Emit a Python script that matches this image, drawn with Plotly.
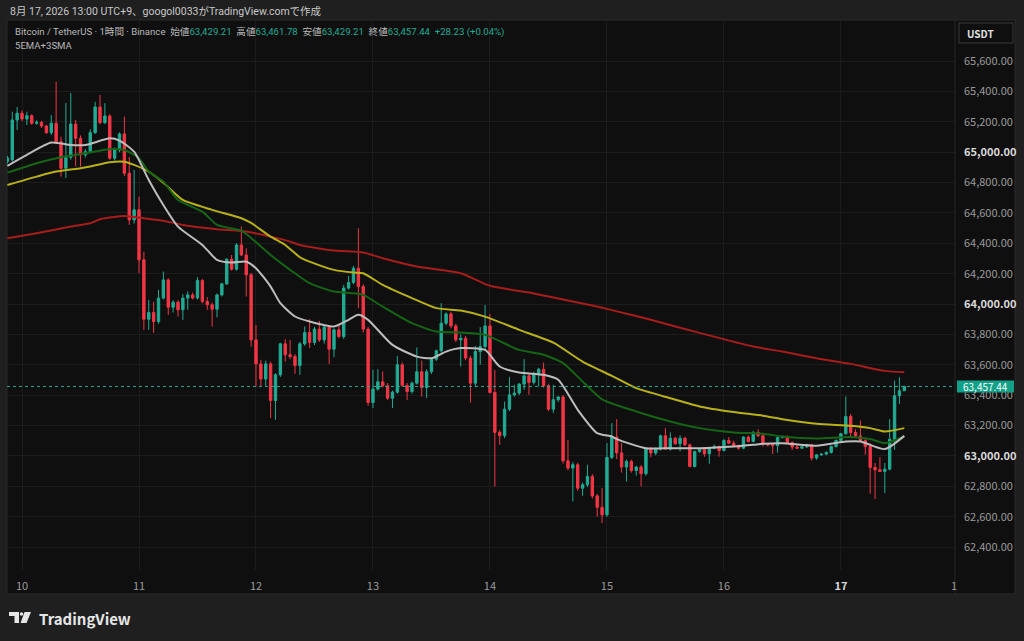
import pandas as pd
import plotly.graph_objects as go

# BTC/USDT 1h candles (Binance), first candle 2026-08-09 21:00 UTC+9
START = "2026-08-09 21:00"

opens = [
    64938, 64949, 65212,
    65256, 65218, 65240, 65190, 65196, 65172, 65128, 65190, 65069, 64894, 64966, 65185,
    65091, 64982, 65003, 65128, 65297, 65194, 65238, 64960, 65014, 65120, 64861, 64554,
    64620, 64291, 63900, 63944, 63885, 64039, 64159, 63979, 64012, 63962, 64039, 64060,
    64040, 64155, 64017, 63995, 63966, 64060, 64133, 64295, 64229, 64389, 64323, 64192,
    63764, 63606, 63506, 63606, 63365, 63534, 63738, 63666, 63655, 63595, 63738, 63812,
    63747, 63835, 63764, 63848, 63703, 63830, 63786, 64105, 64142, 64236, 64115, 63835,
    63352, 63440, 63488, 63462, 63380, 63420, 63600, 63464, 63424, 63479, 63554, 63450,
    63554, 63637, 63692, 63874, 63935, 63856, 63764, 63775, 63644, 63479, 63687, 63720,
    63856, 63418, 63155, 63134, 63308, 63402, 63414, 63473, 63527, 63484, 63540, 63571,
    63462, 63308, 63370, 63388, 62968, 62920, 62942, 62788, 62810, 62865, 62737, 62662,
    62612, 62990, 63124, 63020, 62927, 62964, 62904, 62927, 62883, 63045, 63019, 63045,
    63133, 63045, 63117, 63080, 63117, 63073, 62931, 63029, 63045, 63014, 63051, 63062,
    63036, 63102, 63084, 63067, 63051, 63124, 63095, 63155, 63133, 63080, 63073, 63068,
    63121, 63128, 63089, 63058, 63051, 63060, 63073, 62986, 63007, 63012, 63023, 63062,
    63102, 63146, 63260, 63154, 63132, 63102, 63062, 62924, 62909, 62898, 62913, 63110,
    63396, 63429.21,
]
highs = [
    64975, 65266, 65297,
    65275, 65266, 65250, 65210, 65205, 65180, 65245, 65464, 65102, 65324, 65389, 65212,
    65110, 65020, 65150, 65332, 65376, 65322, 65250, 65030, 65130, 65234, 64968, 64883,
    64707, 64345, 64027, 64016, 64093, 64214, 64170, 64025, 64025, 64065, 64082, 64075,
    64177, 64165, 64045, 64010, 64070, 64140, 64302, 64323, 64400, 64510, 64367, 64205,
    63863, 63633, 63628, 63620, 63545, 63745, 63769, 63764, 63670, 63751, 63852, 63900,
    63850, 63889, 63860, 63860, 63840, 63863, 64126, 64185, 64251, 64499, 64130, 63850,
    63567, 63571, 63556, 63480, 63430, 63659, 63615, 63480, 63490, 63714, 63628, 63570,
    63645, 63700, 64006, 63945, 63948, 63870, 63800, 63790, 63660, 63725, 63848, 63994,
    63935, 63567, 63170, 63358, 63519, 63468, 63480, 63637, 63545, 63555, 63580, 63615,
    63475, 63468, 63395, 63400, 63106, 62960, 62955, 62825, 62942, 62880, 62750, 62788,
    63085, 63216, 63242, 63085, 62975, 62975, 62935, 62940, 63055, 63060, 63055, 63140,
    63183, 63155, 63125, 63135, 63125, 63080, 63035, 63052, 63055, 63060, 63075, 63068,
    63110, 63124, 63100, 63075, 63130, 63135, 63165, 63176, 63140, 63085, 63080, 63125,
    63135, 63135, 63095, 63070, 63065, 63080, 63080, 63012, 63018, 63030, 63068, 63108,
    63152, 63391, 63277, 63176, 63233, 63115, 63085, 62953, 62992, 62953, 63242, 63496,
    63518, 63461.78,
]
lows = [
    64925, 64937, 65146,
    65205, 65179, 65180, 65180, 65160, 65120, 65113, 65060, 64839, 64830, 64950, 64905,
    64905, 64965, 64995, 65120, 65185, 65185, 64950, 64945, 65000, 64843, 64521, 64530,
    64203, 63830, 63830, 63810, 63870, 64030, 63929, 63944, 63918, 63896, 63962, 64030,
    64030, 64005, 63962, 63852, 63913, 64050, 64125, 64220, 64220, 64315, 64049, 63720,
    63457, 63457, 63460, 63249, 63238, 63520, 63621, 63637, 63540, 63534, 63725, 63710,
    63730, 63750, 63740, 63606, 63650, 63775, 63770, 64095, 64130, 63973, 63812, 63330,
    63315, 63430, 63450, 63369, 63316, 63410, 63455, 63369, 63410, 63470, 63391, 63381,
    63540, 63625, 63680, 63860, 63840, 63750, 63589, 63630, 63352, 63453, 63600, 63700,
    63410, 62799, 63073, 63117, 63295, 63390, 63400, 63435, 63402, 63470, 63457, 63450,
    63295, 63282, 63355, 62950, 62905, 62700, 62770, 62738, 62795, 62720, 62601, 62558,
    62600, 62980, 62980, 62891, 62832, 62890, 62870, 62799, 62870, 62990, 63005, 63035,
    63040, 63035, 63075, 63030, 63065, 62925, 62925, 63020, 62995, 62948, 63045, 62995,
    63030, 63080, 63060, 63040, 63045, 63090, 63090, 63125, 63062, 63062, 63012, 63022,
    63115, 63085, 63040, 63045, 63045, 63052, 62970, 62975, 63000, 63005, 63015, 63055,
    63095, 63140, 63124, 63125, 63095, 63008, 62751, 62716, 62895, 62755, 62905, 63040,
    63343, 63429.21,
]
closes = [
    64962, 65212, 65256,
    65218, 65240, 65190, 65196, 65172, 65128, 65190, 65069, 64894, 64966, 65185, 65091,
    64982, 65003, 65128, 65297, 65194, 65238, 64960, 65014, 65120, 64861, 64554, 64620,
    64291, 63900, 63944, 63885, 64039, 64159, 63979, 64012, 63962, 64039, 64060, 64040,
    64155, 64017, 63995, 63966, 64060, 64133, 64295, 64229, 64389, 64323, 64192, 63764,
    63606, 63506, 63606, 63365, 63534, 63738, 63666, 63655, 63595, 63738, 63812, 63747,
    63835, 63764, 63848, 63703, 63830, 63786, 64105, 64142, 64236, 64115, 63835, 63352,
    63440, 63488, 63462, 63380, 63420, 63600, 63464, 63424, 63479, 63554, 63450, 63554,
    63637, 63692, 63874, 63935, 63856, 63764, 63775, 63644, 63479, 63687, 63720, 63856,
    63418, 63155, 63134, 63308, 63402, 63414, 63473, 63527, 63484, 63540, 63571, 63462,
    63308, 63370, 63388, 62968, 62920, 62942, 62788, 62810, 62865, 62737, 62662, 62612,
    62990, 63124, 63020, 62927, 62964, 62904, 62927, 62883, 63045, 63019, 63045, 63133,
    63045, 63117, 63080, 63117, 63073, 62931, 63029, 63045, 63014, 63051, 63062, 63036,
    63102, 63084, 63067, 63051, 63124, 63095, 63155, 63133, 63080, 63073, 63068, 63121,
    63128, 63089, 63058, 63051, 63060, 63073, 62986, 63007, 63012, 63023, 63062, 63102,
    63146, 63260, 63154, 63132, 63102, 63062, 62924, 62909, 62898, 62913, 63110, 63396,
    63429.21, 63457.44,
]

# moving averages at a few hours (hours after Aug 10 00:00)
white_hours = [-3, 1, 6, 10, 13, 18, 20, 23, 26, 29, 32, 37, 40, 43, 46, 48, 51, 53, 56, 59,
               64, 67, 69, 71, 76, 81, 84, 87, 90, 95, 98, 102, 107, 110, 114, 118, 121, 122,
               128, 133, 139, 146, 150, 152, 156, 163, 169, 172, 177, 181]
white_ma = [64910, 64982, 65063, 65047, 65047, 65091, 65076, 65003, 64817, 64652, 64510, 64389,
            64291, 64273, 64279, 64236, 64115, 64006, 63918, 63885, 63852, 63896, 63929, 63896,
            63731, 63654, 63643, 63687, 63710, 63698, 63589, 63549, 63534, 63501, 63304, 63150,
            63128, 63111, 63051, 63051, 63051, 63062, 63073, 63080, 63084, 63067, 63095, 63095,
            63045, 63132]

green_hours = [-3, 3, 8, 13, 18, 21, 24, 26, 29, 32, 37, 40, 45, 47, 51, 55, 59, 64, 68, 70,
               74, 80, 85, 90, 95, 102, 107, 111, 115, 119, 126, 133, 139, 146, 152, 156, 163,
               170, 174, 177, 181]
green_ma = [64865, 64927, 64966, 64993, 65019, 65014, 64960, 64872, 64806, 64685, 64608, 64521,
            64483, 64435, 64323, 64225, 64137, 64082, 64071, 64060, 63983, 63874, 63819, 63812,
            63797, 63698, 63666, 63611, 63490, 63373, 63293, 63227, 63183, 63155, 63146, 63128,
            63115, 63124, 63111, 63084, 63128]

yellow_hours = [-3, 3, 7, 12, 14, 18, 21, 23, 26, 29, 33, 39, 45, 47, 51, 54, 57, 59, 64, 68,
                70, 74, 80, 85, 90, 95, 102, 109, 115, 121, 126, 133, 139, 146, 152, 156, 163,
                170, 174, 177, 181]
yellow_ma = [64784, 64839, 64872, 64894, 64905, 64934, 64937, 64916, 64872, 64799, 64685, 64620,
             64565, 64534, 64444, 64389, 64308, 64279, 64225, 64207, 64203, 64126, 64039, 63973,
             63957, 63917, 63830, 63746, 63621, 63527, 63446, 63380, 63326, 63289, 63265, 63242,
             63212, 63198, 63183, 63161, 63183]

red_hours = [-3, 3, 10, 14, 16, 21, 25, 29, 33, 40, 46, 51, 55, 57, 64, 70, 74, 81, 90, 96,
             105, 111, 117, 121, 129, 139, 150, 156, 163, 170, 177, 181]
red_ma = [64433, 64466, 64510, 64532, 64558, 64580, 64565, 64549, 64521, 64493, 64477, 64444,
          64411, 64389, 64352, 64339, 64302, 64247, 64203, 64120, 64070, 64030, 63990, 63960,
          63896, 63810, 63720, 63687, 63643, 63606, 63560, 63551]

price_ticks = list(range(62400, 65601, 200))
day_ticks = ["2026-08-%02d" % d for d in range(10, 18)]
day_labels = [str(d) for d in range(10, 18)]
last_price = closes[-1]

UP = "#22ab94"
DOWN = "#f23645"
BG_OUT = "#1f1f1f"
BG_IN = "#0f0f0f"
GRID = "#1c1c1c"
FONT = "Noto Sans CJK JP, Noto Sans, sans-serif"
HEAD_FONT = "Roboto, Noto Sans CJK JP, sans-serif"

base = pd.Timestamp("2026-08-10 00:00")
times = pd.date_range(START, periods=len(closes), freq="h")


def at(hours):
    return [base + pd.Timedelta(hours=h) for h in hours]


# pixel helpers for the frame around the plot area (plot spans x 7..955, y 20..570)
def px(x):
    return (x - 7) / 948


def py(y):
    return (570 - y) / 550


fig = go.Figure()
fig.add_trace(go.Candlestick(
    x=times, open=opens, high=highs, low=lows, close=closes,
    increasing=dict(line=dict(color=UP, width=1), fillcolor=UP),
    decreasing=dict(line=dict(color=DOWN, width=1), fillcolor=DOWN),
    whiskerwidth=0, hoverinfo="skip", showlegend=False,
))

for hours, vals, color in [
    (red_hours, red_ma, "#a81c1c"),
    (yellow_hours, yellow_ma, "#b9b01a"),
    (green_hours, green_ma, "#166416"),
    (white_hours, white_ma, "#bdbdbd"),
]:
    fig.add_trace(go.Scatter(
        x=at(hours), y=vals, mode="lines",
        line=dict(color=color, width=2, shape="spline", smoothing=0.6),
        hoverinfo="skip", showlegend=False,
    ))

price_text = []
for v in price_ticks:
    s = f"{v:,.2f}"
    if v % 1000 == 0:
        s = f"<b><span style='color:#d9d9d9'>{s}</span></b>"
    price_text.append(s)

day_text = [f"<b><span style='color:#d9d9d9'>{d}</span></b>" if d == "17" else d for d in day_labels]

shapes = [
    # chart panel
    dict(type="rect", xref="paper", yref="paper", x0=px(7), x1=px(1015), y0=py(594), y1=py(20),
         fillcolor=BG_IN, line=dict(color="#2a2a2a", width=1), layer="below"),
    # price scale separator
    dict(type="line", xref="paper", yref="paper", x0=1, x1=1, y0=py(594), y1=1,
         line=dict(color="#262626", width=1)),
    # last price line
    dict(type="line", xref="paper", yref="y", x0=0, x1=1, y0=last_price, y1=last_price,
         line=dict(color=UP, width=1, dash="dot")),
    # last price tag (covers part of the 63,400 label, as in TradingView)
    dict(type="rect", xref="paper", yref="paper", x0=px(957), x1=px(1014), y0=py(392.5), y1=py(380.5),
         fillcolor="#12a088", line=dict(width=0)),
    # USDT box
    dict(type="rect", xref="paper", yref="paper", x0=px(959), x1=px(1013), y0=py(43), y1=py(23),
         fillcolor=BG_IN, line=dict(color="#3a3a3a", width=1)),
    # TradingView logo
    dict(type="rect", xref="paper", yref="paper", x0=px(9), x1=px(19), y0=py(616), y1=py(612),
         fillcolor="#e6e6e6", line=dict(width=0)),
    dict(type="rect", xref="paper", yref="paper", x0=px(14.5), x1=px(19), y0=py(623), y1=py(612),
         fillcolor="#e6e6e6", line=dict(width=0)),
    dict(type="circle", xref="paper", yref="paper", x0=px(19.8), x1=px(23.2), y0=py(615.7), y1=py(612.3),
         fillcolor="#e6e6e6", line=dict(width=0)),
    dict(type="path", xref="paper", yref="paper",
         path=f"M {px(24.5)} {py(612)} L {px(31)} {py(612)} L {px(26.5)} {py(623)} L {px(20.5)} {py(623)} Z",
         fillcolor="#e6e6e6", line=dict(width=0)),
]

header = ("Bitcoin / TetherUS · 1時間 · Binance\u00a0\u00a0"
          f"始値<span style='color:{UP}'>63,429.21</span>\u00a0\u00a0"
          f"高値<span style='color:{UP}'>63,461.78</span>\u00a0\u00a0"
          f"安値<span style='color:{UP}'>63,429.21</span>\u00a0\u00a0"
          f"終値<span style='color:{UP}'>63,457.44</span>\u00a0\u00a0"
          f"<span style='color:{UP}'>+28.23 (+0.04%)</span>")

annotations = [
    dict(text="8月 17, 2026 13:00 UTC+9、googol0033がTradingView.comで作成",
         x=px(8), y=py(12), xanchor="left", yanchor="middle",
         font=dict(family=HEAD_FONT, size=10.5, color="#c8c8c8")),
    dict(text=header, x=px(13), y=py(32), xanchor="left", yanchor="middle",
         font=dict(family=HEAD_FONT, size=9.6, color="#b8b8b8")),
    dict(text="5EMA+3SMA", x=px(13), y=py(46), xanchor="left", yanchor="middle",
         font=dict(family=HEAD_FONT, size=9.6, color="#b8b8b8")),
    dict(text="<b>USDT</b>", x=px(965), y=py(33), xanchor="left", yanchor="middle",
         font=dict(size=10, color="#e0e0e0")),
    dict(text="63,457.44", x=px(985.5), y=py(386.5), xanchor="center", yanchor="middle",
         font=dict(size=10, color="#ffffff")),
    dict(text="1", x=px(954), y=py(585), xanchor="center", yanchor="middle",
         font=dict(size=11, color="#9a9a9a")),
    dict(text="<b>TradingView</b>", x=px(37), y=py(618), xanchor="left", yanchor="middle",
         font=dict(size=15, color="#e6e6e6")),
]
for a in annotations:
    a.update(xref="paper", yref="paper", showarrow=False)

fig.update_layout(
    width=1024, height=641,
    margin=dict(l=7, r=69, t=20, b=71),
    paper_bgcolor=BG_OUT, plot_bgcolor=BG_IN,
    font=dict(family=FONT, color="#9a9a9a", size=11),
    shapes=shapes, annotations=annotations,
    hovermode=False, showlegend=False,
)
fig.update_xaxes(
    type="date", range=[base - pd.Timedelta(hours=3.08), base + pd.Timedelta(hours=191.4)],
    tickvals=day_ticks, ticktext=day_text, showgrid=True, gridcolor=GRID, gridwidth=1,
    zeroline=False, showline=False, ticks="", ticklabelstandoff=8,
    rangeslider=dict(visible=False), tickfont=dict(size=11, color="#9a9a9a"),
)
fig.update_yaxes(
    side="right", range=[62249, 65870], tickvals=price_ticks, ticktext=price_text,
    showgrid=True, gridcolor=GRID, gridwidth=1, zeroline=False, showline=False,
    ticks="", ticklabelstandoff=8, tickfont=dict(size=11, color="#9a9a9a"),
)

# the page body has a default 8px margin; drop it so the figure sits at the window corner
fig.write_html("out.html", config={"displayModeBar": False},
               post_script="document.body.style.margin='0';")
